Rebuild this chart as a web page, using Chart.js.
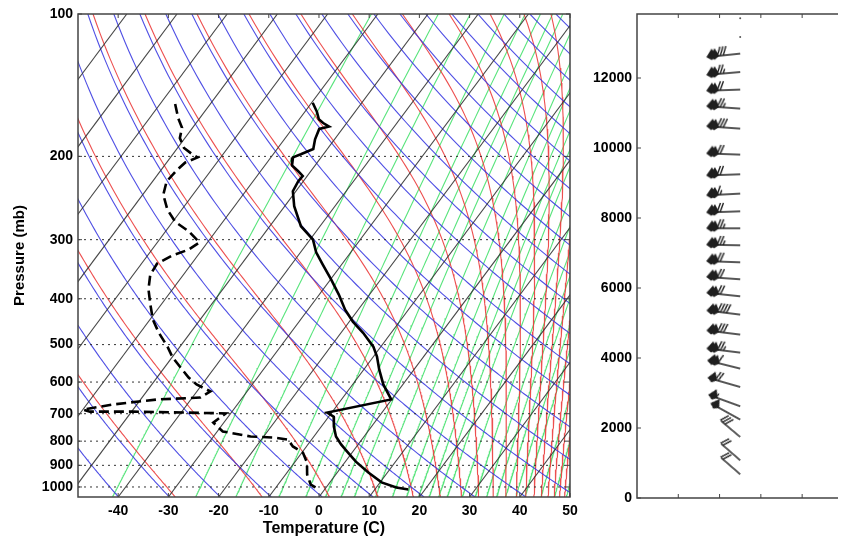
<!DOCTYPE html>
<html>
<head>
<meta charset="utf-8">
<script src="https://cdn.jsdelivr.net/npm/chart.js@4.4.0/dist/chart.umd.min.js"></script>
<style>
  body { margin: 0; background: #fff; width: 841px; height: 542px; overflow: hidden; position: relative; }
  #skewCanvas { position: absolute; left: 0; top: 0; }
  #windCanvas { position: absolute; left: 560px; top: 0; }
</style>
</head>
<body>
<canvas id="skewCanvas" width="600" height="542"></canvas>
<canvas id="windCanvas" width="281" height="542"></canvas>
<script>
// Sounding: temperature profile (pressure mb, temperature C)
const tempP = [154, 161, 167, 170, 173, 175, 184, 193, 198, 201, 209, 215, 220, 226, 237, 255, 281, 300, 319, 339, 364, 392, 422, 447, 472, 505, 530, 565, 607, 653, 696, 710, 745, 782, 813, 841, 884, 932, 978, 1003, 1012];
const tempC = [-59.8, -57.6, -56.1, -54.7, -53.0, -54.6, -53.9, -52.8, -54.5, -55.6, -54.6, -52.5, -50.9, -51.0, -50.6, -48.1, -43.8, -39.4, -36.9, -33.7, -29.9, -26.1, -22.6, -19.3, -15.6, -11.5, -9.3, -6.9, -3.9, -0.1, -10.9, -9.0, -7.5, -5.6, -3.4, -1.2, 2.1, 6.2, 10.3, 14.0, 16.7];

// Sounding: dew point profile
const dewP = [155, 166, 174, 183, 192, 198, 201, 206, 215, 226, 241, 259, 275, 288, 304, 315, 324, 337, 356, 382, 411, 443, 471, 505, 532, 559, 587, 607, 628, 647, 653, 669, 686, 693, 693, 696, 699, 731, 763, 782, 786, 794, 821, 846, 888, 941, 988, 1012];
const dewC = [-87.0, -84.3, -82.1, -81.0, -78.7, -76.1, -74.6, -76.3, -76.9, -77.2, -75.9, -72.9, -69.5, -65.4, -61.6, -62.7, -65.1, -66.9, -66.6, -64.8, -62.2, -59.4, -56.4, -52.5, -49.9, -46.8, -43.7, -41.1, -37.3, -38.4, -46.7, -54.7, -60.0, -58.3, -49.7, -39.5, -31.0, -32.1, -28.9, -22.6, -17.8, -14.7, -12.7, -9.8, -7.5, -5.7, -3.5, -1.1];

// Wind profile (height m, speed kt, direction deg)
const windHeight = [12697, 12171, 11669, 11126, 10554, 9811, 9249, 8697, 8191, 7706, 7220, 6734, 6249, 5763, 5240, 4669, 4154, 3697, 3171, 2620, 2240, 1743, 1077, 677];
const windSpeed = [130, 125, 120, 125, 130, 120, 120, 115, 120, 125, 125, 120, 120, 120, 140, 130, 125, 110, 70, 55, 50, 30, 20, 20];
const windDir = [264, 265, 268, 274, 274, 272, 268, 267, 268, 270, 271, 272, 274, 276, 277, 277, 277, 284, 286, 290, 299, 310, 311, 311];
const calmHeight = [13706, 13171];

// Background line families
const isotherms = [-120, -110, -100, -90, -80, -70, -60, -50, -40, -30, -20, -10, 0, 10, 20, 30, 40, 50];
const dryTheta = [220, 230, 240, 250, 260, 270, 280, 290, 300, 310, 320, 330, 340, 350, 360, 370, 380, 390, 400, 410, 420, 430, 440, 450, 460, 470, 480];
const moistThetaE = [222, 242, 262, 282, 302, 322, 342, 362, 382, 402, 422, 442, 462, 482, 502, 522, 542, 562, 582, 602, 622, 642, 662, 682, 702];
const mixRatio = [0.1, 0.5, 1, 2, 3, 4, 5, 6, 8, 10, 12, 14, 16, 18, 20, 24, 28, 32, 36, 40, 45, 50, 60, 70, 80];

// Axis ticks
const pressureTicks = [100, 200, 300, 400, 500, 600, 700, 800, 900, 1000];
const dottedLevels = [200, 300, 400, 500, 600, 700, 800, 900, 1000];
const tempTicks = [-40, -30, -20, -10, 0, 10, 20, 30, 40, 50];
const heightTicks = [0, 2000, 4000, 6000, 8000, 10000, 12000];
const windXTicks = [1, 2, 3, 4];

const P_TOP = 100, P_BOT = 1050, SKEW = 30.5;
const X_MIN = -48, X_MAX = 50;
const BARB_X = 2.5;

Chart.defaults.font.family = "'Liberation Sans', Arial, sans-serif";
Chart.defaults.font.weight = 'bold';
Chart.defaults.font.size = 14;
Chart.defaults.color = '#000';

// skewed x coordinate of a temperature at a pressure
function skewX(t, p) {
  return t + SKEW * Math.log(P_BOT / p);
}

function satVap(tc) {
  return 6.112 * Math.exp(17.67 * tc / (tc + 243.5));
}

function thetaE(tk, p) {
  let e = satVap(tk - 273.15);
  if (e >= p * 0.9) return Infinity;
  let r = 0.622 * e / (p - e);
  return tk * Math.pow(1000 / p, 0.2857) * Math.exp(2.5e6 * r / (1004 * tk));
}

// pressures used to trace the curved lines
let sampleP = [];
for (let p = P_TOP; p <= P_BOT; p += 5) sampleP.push(p);

function lineSet(data, color, width) {
  return {
    data: data,
    showLine: true,
    borderColor: color,
    borderWidth: width,
    pointRadius: 0,
    order: 3,
  };
}

let datasets = [];

// Profiles
datasets.push({
  data: tempP.map((p, i) => ({ x: skewX(tempC[i], p), y: p })),
  showLine: true, borderColor: '#000', borderWidth: 2.6, pointRadius: 0, order: 0,
});
datasets.push({
  data: dewP.map((p, i) => ({ x: skewX(dewC[i], p), y: p })),
  showLine: true, borderColor: '#000', borderWidth: 2.6, borderDash: [10, 5], pointRadius: 0, order: 0,
});

// Dotted pressure levels
dottedLevels.forEach(function (p) {
  let ds = lineSet([{ x: X_MIN, y: p }, { x: X_MAX, y: p }], '#333', 1);
  ds.borderDash = [2, 4];
  ds.order = 1;
  datasets.push(ds);
});

// Isotherms
isotherms.forEach(function (t) {
  datasets.push(lineSet([{ x: skewX(t, P_TOP), y: P_TOP }, { x: skewX(t, P_BOT), y: P_BOT }], 'rgba(50,50,50,0.9)', 1.1));
});

// Dry adiabats
dryTheta.forEach(function (th) {
  let pts = sampleP.map(p => ({ x: skewX(th * Math.pow(p / 1000, 0.2857) - 273.15, p), y: p }));
  datasets.push(lineSet(pts, 'rgba(60,60,225,0.9)', 1.1));
});

// Moist adiabats
moistThetaE.forEach(function (te) {
  let pts = [];
  sampleP.forEach(function (p) {
    let lo = 120, hi = 420;
    if (thetaE(lo, p) > te) return;
    for (let k = 0; k < 50; k++) {
      let mid = (lo + hi) / 2;
      if (thetaE(mid, p) > te) hi = mid; else lo = mid;
    }
    pts.push({ x: skewX(lo - 273.15, p), y: p });
  });
  datasets.push(lineSet(pts, 'rgba(235,60,60,0.9)', 1.1));
});

// Mixing ratio lines
mixRatio.forEach(function (w) {
  let pts = sampleP.map(function (p) {
    let r = w / 1000;
    let e = r * p / (0.622 + r);
    let l = Math.log(e / 6.112);
    return { x: skewX(243.5 * l / (17.67 - l), p), y: p };
  });
  datasets.push(lineSet(pts, 'rgba(70,225,110,0.9)', 1.1));
});

// Frame with inward ticks
const framePlugin = {
  id: 'frame',
  afterDatasetsDraw(chart, args, opts) {
    const { ctx, chartArea: a, scales } = chart;
    ctx.save();
    ctx.strokeStyle = '#444';
    ctx.lineWidth = 1.5;
    ctx.beginPath();
    if (opts.open) {
      ctx.moveTo(a.right + 2, a.top);
      ctx.lineTo(a.left, a.top);
      ctx.lineTo(a.left, a.bottom);
      ctx.lineTo(a.right + 2, a.bottom);
    } else {
      ctx.rect(a.left, a.top, a.right - a.left, a.bottom - a.top);
    }
    ctx.stroke();
    ctx.lineWidth = 1;
    ctx.beginPath();
    (opts.xTicks || []).forEach(function (v) {
      let x = scales.x.getPixelForValue(v);
      ctx.moveTo(x, a.bottom); ctx.lineTo(x, a.bottom - 4);
      ctx.moveTo(x, a.top); ctx.lineTo(x, a.top + 4);
    });
    (opts.yTicks || []).forEach(function (v) {
      let y = scales.y.getPixelForValue(v);
      ctx.moveTo(a.left, y); ctx.lineTo(a.left + 4, y);
      if (!opts.open) { ctx.moveTo(a.right, y); ctx.lineTo(a.right - 4, y); }
    });
    ctx.stroke();
    ctx.restore();
  },
};

new Chart(document.getElementById('skewCanvas'), {
  type: 'scatter',
  data: { datasets: datasets },
  plugins: [framePlugin],
  options: {
    responsive: false,
    animation: false,
    devicePixelRatio: 1,
    layout: { padding: { top: 14, right: 30, bottom: 0, left: 0 } },
    plugins: {
      legend: { display: false },
      tooltip: { enabled: false },
      frame: { xTicks: tempTicks, yTicks: pressureTicks },
    },
    scales: {
      x: {
        type: 'linear', min: X_MIN, max: X_MAX,
        grid: { display: false, drawTicks: false },
        border: { display: false },
        ticks: { padding: 6 },
        title: { display: true, text: 'Temperature (C)', font: { size: 16, weight: 'bold' }, padding: { top: 4, bottom: 4 } },
        afterBuildTicks: function (s) { s.ticks = tempTicks.map(v => ({ value: v })); },
        afterFit: function (s) { s.height = 45; },
      },
      y: {
        type: 'logarithmic', reverse: true, min: P_TOP, max: P_BOT,
        grid: { display: false, drawTicks: false },
        border: { display: false },
        ticks: { padding: 5, callback: v => String(v) },
        title: { display: true, text: 'Pressure (mb)', font: { size: 15, weight: 'bold' }, padding: { top: 11, bottom: 0 } },
        afterBuildTicks: function (s) { s.ticks = pressureTicks.map(v => ({ value: v })); },
        afterFit: function (s) { s.width = 78; },
      },
    },
  },
});

// Wind barb glyph: station at centre, staff pointing left (west wind)
function makeBarb(speed) {
  const R = 44, h = 9, lean = 3.5;
  let s = Math.round(speed / 5) * 5;
  const L = s >= 50 ? 34 : 26;
  let c = document.createElement('canvas');
  c.width = c.height = 2 * R;
  let g = c.getContext('2d');
  g.translate(R, R);
  g.strokeStyle = g.fillStyle = '#1f1f1f';
  g.lineWidth = 1.4;
  g.beginPath(); g.moveTo(0, 0); g.lineTo(-L + 1, 0); g.stroke();
  let pos = -L;
  while (s >= 50) {
    g.beginPath(); g.moveTo(pos, 0); g.lineTo(pos + 6, -h + 1); g.lineTo(pos + 10, 0); g.closePath(); g.fill();
    g.beginPath(); g.moveTo(pos, 0); g.lineTo(pos + 5, 3.5); g.lineTo(pos + 10, 0); g.closePath(); g.fill();
    pos += 3; s -= 50;
  }
  if (pos > -L) pos += 5;
  while (s >= 10) {
    g.beginPath(); g.moveTo(pos, 0); g.lineTo(pos + lean, -h); g.stroke();
    pos += 3; s -= 10;
  }
  if (s >= 5) {
    g.beginPath(); g.moveTo(pos, 0); g.lineTo(pos + lean / 2, -h / 2); g.stroke();
  }
  return c;
}

new Chart(document.getElementById('windCanvas'), {
  type: 'scatter',
  data: {
    datasets: [
      {
        data: windHeight.map(h => ({ x: BARB_X, y: h })),
        pointStyle: windSpeed.map(makeBarb),
        rotation: windDir.map(d => d - 270),
        pointRadius: 3,
      },
      {
        data: calmHeight.map(h => ({ x: BARB_X, y: h })),
        pointStyle: 'circle',
        pointRadius: 1,
        backgroundColor: '#555',
        borderWidth: 0,
      },
    ],
  },
  plugins: [framePlugin],
  options: {
    responsive: false,
    animation: false,
    devicePixelRatio: 1,
    layout: { padding: { top: 14, right: 0, bottom: 44, left: 0 } },
    plugins: {
      legend: { display: false },
      tooltip: { enabled: false },
      frame: { open: true, xTicks: windXTicks, yTicks: heightTicks },
    },
    scales: {
      x: { type: 'linear', min: 0, max: 4.82, display: false },
      y: {
        type: 'linear', min: 0, max: 13829,
        grid: { display: false, drawTicks: false },
        border: { display: false },
        ticks: { padding: 5, callback: v => String(v) },
        afterBuildTicks: function (s) { s.ticks = heightTicks.map(v => ({ value: v })); },
        afterFit: function (s) { s.width = 77; },
      },
    },
  },
});
</script>
</body>
</html>
